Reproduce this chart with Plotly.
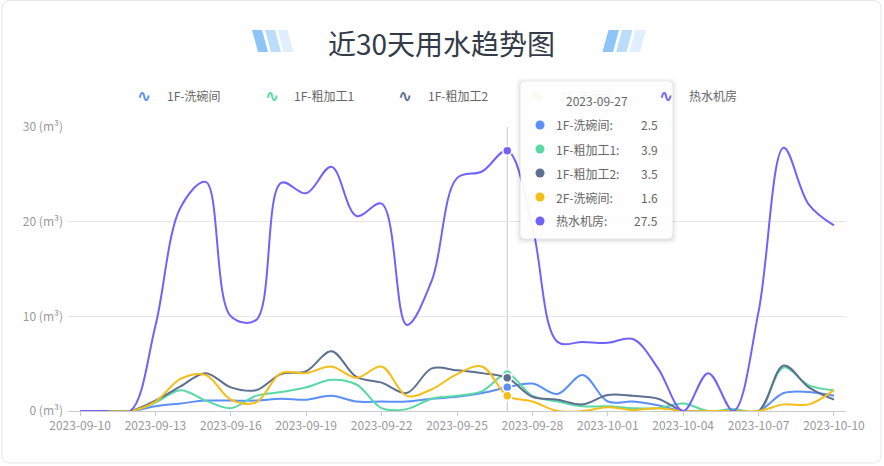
import plotly.graph_objects as go
import pandas as pd

# ---------------- data ----------------
dates = pd.date_range("2023-09-10", "2023-10-10", freq="D")
series_names = ["1F-洗碗间", "1F-粗加工1", "1F-粗加工2", "2F-洗碗间", "热水机房"]
series_colors = ["#5B8FF9", "#5AD8A6", "#5D7092", "#F6BD16", "#7262FD"]

wash_1f = [0, 0, 0, 0.5, 0.8, 1.1, 1.1, 1.1, 1.3, 1.2, 1.6, 1.0, 1.0, 1.0, 1.3, 1.5,
           1.9, 2.5, 2.9, 1.8, 3.8, 1.0, 1.0, 0.6, 0, 0, 0, 0, 1.9, 2.0, 1.6]
rough1_1f = [0, 0, 0, 0.9, 2.2, 1.1, 0.3, 1.6, 2.0, 2.5, 3.3, 2.8, 0.3, 0.2, 1.3, 1.6,
             2.1, 3.9, 1.6, 1.0, 0.5, 0.5, 0.3, 0.3, 0.8, 0, 0.2, 0, 4.6, 2.7, 2.2]
rough2_1f = [0, 0, 0, 1.1, 2.6, 4.0, 2.5, 2.2, 3.9, 4.2, 6.3, 3.6, 3.0, 1.9, 4.5, 4.3,
             4.0, 3.5, 1.5, 1.2, 0.7, 1.7, 1.6, 1.3, 0, 0, 0, 0, 4.8, 2.5, 1.2]
wash_2f = [0, 0, 0, 1.0, 3.4, 3.8, 1.2, 0.9, 4.0, 4.0, 4.7, 3.5, 4.7, 1.6, 2.3, 3.9,
           4.7, 1.6, 1.0, 0, 0, 0.4, 0.1, 0.3, 0, 0, 0, 0, 0.7, 0.7, 2.2]
hot_water = [0, 0, 0, 9.0, 21.5, 24.2, 10.0, 9.6, 24.1, 23.0, 25.8, 20.6, 21.9, 9.1, 13.8, 24.6,
             25.3, 27.5, 19.5, 7.3, 7.3, 7.2, 7.6, 4.5, 0, 4.0, 0, 10.5, 27.8, 21.8, 19.6]
series_values = [wash_1f, rough1_1f, rough2_1f, wash_2f, hot_water]

y_ticks = [0, 10, 20, 30]
y_ticktext = [f"{v} (m³)" for v in y_ticks]
x_tickvals = list(dates[::3])
x_ticktext = [d.strftime("%Y-%m-%d") for d in x_tickvals]
hover_idx = 17  # 2023-09-27
title_text = "近30天用水趋势图"

# ---------------- helpers (pixel -> paper) ----------------
W, H = 884, 466
def fx(px):
    return px / W
def fy(py):
    return 1 - py / H

FONT = "Noto Sans CJK SC, Noto Sans, sans-serif"

fig = go.Figure()

for name, vals, col in zip(series_names, series_values, series_colors):
    fig.add_trace(go.Scatter(
        x=dates, y=vals, mode="lines", name=name, showlegend=False,
        line=dict(color=col, width=2, shape="spline", smoothing=1.0),
        hoverinfo="skip"))

hover_date = dates[hover_idx]
for name, vals, col in zip(series_names, series_values, series_colors):
    fig.add_trace(go.Scatter(
        x=[hover_date], y=[vals[hover_idx]], mode="markers", showlegend=False,
        marker=dict(size=9, color=col, line=dict(color="white", width=1.5)),
        hoverinfo="skip"))

shapes = []

def rrect(x0, y0, x1, y1, r):
    rx, ry = r / W, r / H
    X0, X1 = fx(x0), fx(x1)
    Y0, Y1 = fy(y0), fy(y1)
    return (f"M {X0+rx},{Y0} L {X1-rx},{Y0} Q {X1},{Y0} {X1},{Y0-ry} "
            f"L {X1},{Y1+ry} Q {X1},{Y1} {X1-rx},{Y1} "
            f"L {X0+rx},{Y1} Q {X0},{Y1} {X0},{Y1+ry} "
            f"L {X0},{Y0-ry} Q {X0},{Y0} {X0+rx},{Y0} Z")

# card
shapes.append(dict(type="path", xref="paper", yref="paper", path=rrect(2, 0.5, 881, 463, 8),
                   fillcolor="white", line=dict(color="#e6e6e6", width=1), layer="below"))

# hover axis pointer line
shapes.append(dict(type="line", xref="x", yref="y", x0=hover_date, x1=hover_date, y0=0, y1=30,
                   line=dict(color="#c8c8c8", width=1), layer="below"))

# title decoration bars
def para(pts, color):
    p = "M " + " L ".join(f"{fx(a)},{fy(b)}" for a, b in pts) + " Z"
    return dict(type="path", xref="paper", yref="paper", path=p, fillcolor=color,
                line=dict(width=0), layer="above")

bar_colors = ["#8DC5F8", "#BCDCFB", "#E0EFFD"]
yt, yb = 30, 52
left_tops = [252, 265, 277.5]
for xt, c in zip(left_tops, bar_colors):
    shapes.append(para([(xt, yt), (xt + 10, yt), (xt + 16, yb), (xt + 6, yb)], c))
right_tops = [608.5, 622, 635.5]
for xt, c in zip(right_tops, bar_colors):
    shapes.append(para([(xt, yt), (xt + 10.5, yt), (xt + 4.5, yb), (xt - 6, yb)], c))

# tooltip shadow + box
for i, a in enumerate([0.025, 0.035, 0.045]):
    g = 5 - i * 1.5
    shapes.append(dict(type="path", xref="paper", yref="paper",
                       path=rrect(521 - g, 82 - g + 1, 672 + g, 238 + g + 1, 6),
                       fillcolor=f"rgba(0,0,0,{a})", line=dict(width=0), layer="above"))
shapes.append(dict(type="path", xref="paper", yref="paper", path=rrect(521, 82, 672, 238, 4),
                   fillcolor="rgba(255,255,255,0.94)", line=dict(color="#ffffff", width=1),
                   layer="above"))

rows_y = [125, 149, 173, 197, 221]
for yy, col in zip(rows_y, series_colors):
    r = 4.5
    shapes.append(dict(type="circle", xref="paper", yref="paper",
                       x0=fx(540 - r), x1=fx(540 + r), y0=fy(yy + r), y1=fy(yy - r),
                       fillcolor=col, line=dict(width=0), layer="above"))

annotations = []
annotations.append(dict(text=title_text, x=fx(441), y=fy(43), xref="paper", yref="paper",
                        showarrow=False, xanchor="center", yanchor="middle",
                        font=dict(family=FONT, size=28, color="#333a48")))

# custom legend
icon_x = [144, 271.5, 404.5, 537, 665.5]
label_x = [165, 291.5, 425.5, 558, 686.5]
for i, (name, col) in enumerate(zip(series_names, series_colors)):
    faint = (i == 3)
    annotations.append(dict(text="<b>∿</b>", x=fx(icon_x[i]), y=fy(96), xref="paper",
                            yref="paper", showarrow=False, xanchor="center", yanchor="middle",
                            font=dict(family="DejaVu Sans", size=17,
                                      color=("rgba(246,189,22,0.12)" if faint else col))))
    annotations.append(dict(text=name, x=fx(label_x[i]), y=fy(96), xref="paper", yref="paper",
                            showarrow=False, xanchor="left", yanchor="middle",
                            font=dict(family=FONT, size=12,
                                      color=("rgba(102,102,102,0.08)" if faint else "#666666"))))

# tooltip texts
annotations.append(dict(text=hover_date.strftime("%Y-%m-%d"), x=fx(596.5), y=fy(100),
                        xref="paper", yref="paper", showarrow=False, xanchor="center",
                        yanchor="middle", font=dict(family=FONT, size=12, color="#666666")))
for yy, name, vals in zip(rows_y, series_names, series_values):
    annotations.append(dict(text=name + ":", x=fx(554), y=fy(yy), xref="paper", yref="paper",
                            showarrow=False, xanchor="left", yanchor="middle",
                            font=dict(family=FONT, size=12, color="#666666")))
    annotations.append(dict(text=f"{vals[hover_idx]}", x=fx(660), y=fy(yy), xref="paper",
                            yref="paper", showarrow=False, xanchor="right", yanchor="middle",
                            font=dict(family=FONT, size=12, color="#666666")))

x_start = dates[0] - pd.Timedelta(hours=11.5)
x_end = dates[-1] + pd.Timedelta(hours=11.5)

fig.update_layout(
    width=W, height=H, autosize=False,
    margin=dict(l=0, r=0, t=0, b=0),
    paper_bgcolor="white", plot_bgcolor="rgba(0,0,0,0)",
    font=dict(family=FONT, size=12, color="#999999"),
    showlegend=False, hovermode=False,
    xaxis=dict(domain=[fx(68), fx(846)], type="date", range=[x_start, x_end],
               tickvals=x_tickvals, ticktext=x_ticktext, ticks="outside", ticklen=4,
               tickcolor="#cccccc", showline=True, linecolor="#cccccc", linewidth=1,
               showgrid=False, zeroline=False, automargin=False,
               tickfont=dict(family=FONT, size=12, color="#999999")),
    yaxis=dict(domain=[1 - 411 / H, 1 - 127 / H], range=[0, 30], tickvals=y_ticks,
               ticktext=y_ticktext, showgrid=True, gridcolor="#e6e6e6", gridwidth=1,
               zeroline=False, showline=False, ticks="", automargin=False,
               ticklabelstandoff=4,
               tickfont=dict(family=FONT, size=12, color="#999999")),
    shapes=shapes, annotations=annotations,
)

fig.write_html("out.html")
